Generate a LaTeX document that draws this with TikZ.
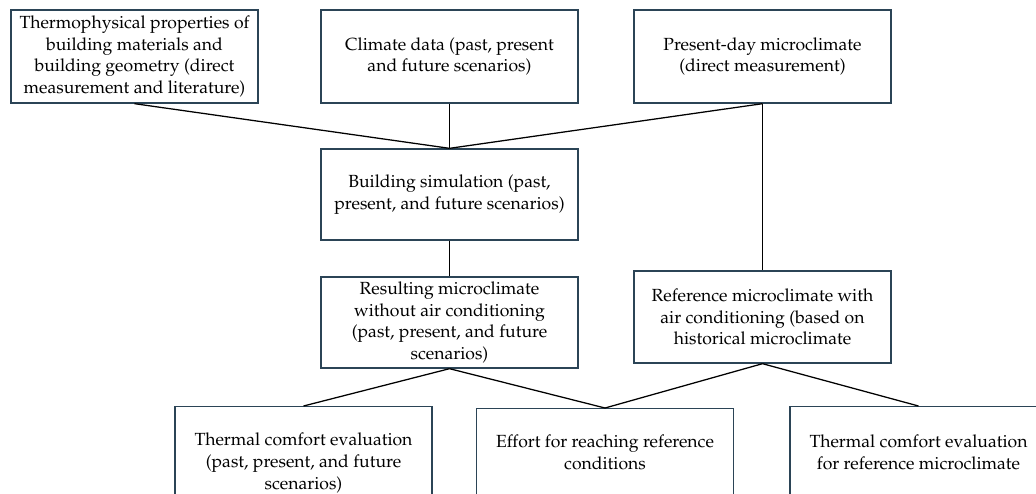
\documentclass[tikz,border=0pt]{standalone}
\usepackage[T1]{fontenc}
\usepackage{mathpazo}
\definecolor{boxline}{HTML}{2B4456}
\usetikzlibrary{positioning}

\tikzset{
  % one picture unit = one pixel of the reference
  every picture/.style={x=0.025cm, y=-0.025cm},
  stage/.style={draw=boxline, line width=0.95pt, align=center, inner sep=0pt,
    minimum width=6.425cm, font=\fontsize{12.5}{15.5}\selectfont},
  link/.style={draw=black, line width=0.9pt}
}

\begin{document}
\begin{tikzpicture}
  \path[use as bounding box, clip] (0,0) rectangle (1036,493);

  % Top row: inputs
  \node[stage, minimum width=6.175cm, minimum height=2.325cm] (thermo) at (134.5,56.5)
    {Thermophysical properties of\\building materials and\\building geometry (direct\\measurement and literature)};
  \node[stage, minimum height=2.325cm] (climate) at (449.5,56.5)
    {Climate data (past, present\\and future scenarios)};
  \node[stage, minimum height=2.325cm] (present) at (762.5,56.5)
    {Present-day microclimate\\(direct measurement)};

  % Simulation
  \node[stage, minimum height=2.275cm] (sim) at (449.5,194.5)
    {Building simulation (past,\\present, and future scenarios)};

  % Microclimates
  \node[stage, minimum height=2.275cm] (result) at (449.5,322.5)
    {Resulting microclimate\\without air conditioning\\(past, present, and future\\scenarios)};
  \node[stage, minimum height=2.3cm] (refclim) at (762.5,317)
    {Reference microclimate with\\air conditioning (based on\\historical microclimate};

  % Bottom row: evaluations (cut by the page edge)
  \node[stage, anchor=north, minimum height=2.825cm] (comfort) at (303.5,406)
    {Thermal comfort evaluation\\(past, present, and future\\scenarios)};
  \node[stage, anchor=north, minimum height=2.2cm] (effort) at (605,408)
    {Effort for reaching reference\\conditions};
  \node[stage, anchor=north, minimum height=2.3cm] (refcomfort) at (918.5,406)
    {Thermal comfort evaluation\\for reference microclimate};

  % Connectors
  \draw[link] (thermo.south) -- (sim.north);
  \draw[link] (climate.south) -- (sim.north);
  \draw[link] (present.south) -- (sim.north);
  \draw[link] (present.south) -- (refclim.north);
  \draw[link] (sim.south) -- (result.north);
  \draw[link] (result.south) -- (comfort.north);
  \draw[link] (result.south) -- (effort.north);
  \draw[link] (refclim.south) -- (effort.north);
  \draw[link] (refclim.south) -- (refcomfort.north);
\end{tikzpicture}
\end{document}
